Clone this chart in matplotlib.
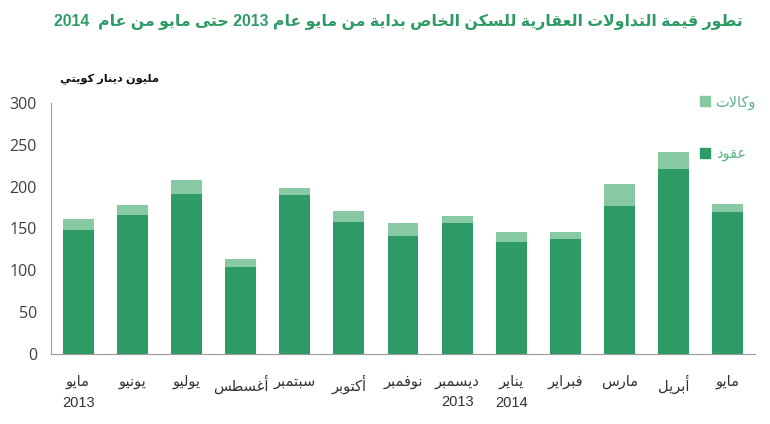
import matplotlib
matplotlib.use("Agg")
import matplotlib.pyplot as plt
from matplotlib.patches import Patch
import numpy as np
import re

# ---------------- data ----------------
months = ["مايو\n2013", "يونيو", "يوليو", "أغسطس", "سبتمبر", "أكتوبر", "نوفمبر",
          "ديسمبر\n2013", "يناير\n2014", "فبراير", "مارس", "أبريل", "مايو"]
contracts = [148, 166.5, 191, 104.5, 190.5, 157.5, 141, 156, 134, 137, 177, 221, 170]   # عقود
agencies = [13.5, 11, 17, 9, 7.5, 13, 15, 9, 12, 9, 26, 20, 9]                          # وكالات
yticks = [0, 50, 100, 150, 200, 250, 300]
title = "تطور قيمة التداولات العقارية للسكن الخاص بداية من مايو عام 2013 حتى مايو من عام  2014"
ylabel = "مليون دينار كويتي"
label_contracts = "عقود"
label_agencies = "وكالات"

# ---------------- minimal Arabic shaping ----------------
FORMS = {
    'ء': (0xFE80, None, None, None),
    'آ': (0xFE81, 0xFE82, None, None),
    'أ': (0xFE83, 0xFE84, None, None),
    'ؤ': (0xFE85, 0xFE86, None, None),
    'إ': (0xFE87, 0xFE88, None, None),
    'ئ': (0xFE89, 0xFE8A, 0xFE8B, 0xFE8C),
    'ا': (0xFE8D, 0xFE8E, None, None),
    'ب': (0xFE8F, 0xFE90, 0xFE91, 0xFE92),
    'ة': (0xFE93, 0xFE94, None, None),
    'ت': (0xFE95, 0xFE96, 0xFE97, 0xFE98),
    'ث': (0xFE99, 0xFE9A, 0xFE9B, 0xFE9C),
    'ج': (0xFE9D, 0xFE9E, 0xFE9F, 0xFEA0),
    'ح': (0xFEA1, 0xFEA2, 0xFEA3, 0xFEA4),
    'خ': (0xFEA5, 0xFEA6, 0xFEA7, 0xFEA8),
    'د': (0xFEA9, 0xFEAA, None, None),
    'ذ': (0xFEAB, 0xFEAC, None, None),
    'ر': (0xFEAD, 0xFEAE, None, None),
    'ز': (0xFEAF, 0xFEB0, None, None),
    'س': (0xFEB1, 0xFEB2, 0xFEB3, 0xFEB4),
    'ش': (0xFEB5, 0xFEB6, 0xFEB7, 0xFEB8),
    'ص': (0xFEB9, 0xFEBA, 0xFEBB, 0xFEBC),
    'ض': (0xFEBD, 0xFEBE, 0xFEBF, 0xFEC0),
    'ط': (0xFEC1, 0xFEC2, 0xFEC3, 0xFEC4),
    'ظ': (0xFEC5, 0xFEC6, 0xFEC7, 0xFEC8),
    'ع': (0xFEC9, 0xFECA, 0xFECB, 0xFECC),
    'غ': (0xFECD, 0xFECE, 0xFECF, 0xFED0),
    'ف': (0xFED1, 0xFED2, 0xFED3, 0xFED4),
    'ق': (0xFED5, 0xFED6, 0xFED7, 0xFED8),
    'ك': (0xFED9, 0xFEDA, 0xFEDB, 0xFEDC),
    'ل': (0xFEDD, 0xFEDE, 0xFEDF, 0xFEE0),
    'م': (0xFEE1, 0xFEE2, 0xFEE3, 0xFEE4),
    'ن': (0xFEE5, 0xFEE6, 0xFEE7, 0xFEE8),
    'ه': (0xFEE9, 0xFEEA, 0xFEEB, 0xFEEC),
    'و': (0xFEED, 0xFEEE, None, None),
    'ى': (0xFEEF, 0xFEF0, None, None),
    'ي': (0xFEF1, 0xFEF2, 0xFEF3, 0xFEF4),
}
LAM_ALEF = {'ا': (0xFEFB, 0xFEFC), 'أ': (0xFEF7, 0xFEF8),
            'آ': (0xFEF5, 0xFEF6), 'إ': (0xFEF9, 0xFEFA)}


def dual(c):
    return c in FORMS and FORMS[c][2] is not None


def shape_word(s):
    chars = list(s)
    out = []
    i = 0
    n = len(chars)
    while i < n:
        c = chars[i]
        if c not in FORMS:
            out.append(c)
            i += 1
            continue
        prev_join = i > 0 and dual(chars[i - 1])
        if c == 'ل' and i + 1 < n and chars[i + 1] in LAM_ALEF:
            iso, fin = LAM_ALEF[chars[i + 1]]
            out.append(chr(fin if prev_join else iso))
            i += 2
            continue
        next_join = dual(c) and i + 1 < n and chars[i + 1] in FORMS
        iso, fin, ini, med = FORMS[c]
        if prev_join and next_join:
            code = med
        elif prev_join:
            code = fin
        elif next_join:
            code = ini
        else:
            code = iso
        out.append(chr(code))
        i += 1
    return ''.join(out)


def ar(text):
    lines = []
    for line in text.split('\n'):
        rev = shape_word(line)[::-1]
        rev = re.sub(r'[0-9]+', lambda m: m.group(0)[::-1], rev)
        lines.append(rev)
    return '\n'.join(lines)


# ---------------- plot ----------------
plt.rcParams['font.family'] = ['Liberation Sans', 'DejaVu Sans']

dark = '#2e9b66'
light = '#86c9a3'

fig = plt.figure(figsize=(7.7, 4.24), dpi=100)
ax = fig.add_axes([51 / 770, 70 / 424, 704 / 770, 251 / 424])

x = np.arange(len(months))
ax.bar(x, contracts, width=0.57, color=dark, zorder=2)
ax.bar(x, agencies, width=0.57, bottom=contracts, color=light, zorder=2)

ax.set_xlim(-0.5, len(months) - 0.5)
ax.set_ylim(0, 300)
ax.set_yticks(yticks)
ax.set_yticklabels([str(v) for v in yticks], fontsize=11.5, color='#404040',
                   family=['Open Sans', 'DejaVu Sans'])
ax.tick_params(axis='y', length=0, pad=10)
ax.set_xticks(x)
ax.set_xticklabels([ar(m) for m in months], fontsize=10.5, color='#333333',
                   linespacing=1.6)
ax.tick_params(axis='x', length=0, pad=15)

for side in ['top', 'right']:
    ax.spines[side].set_visible(False)
ax.spines['left'].set_color('#9a9a9a')
ax.spines['bottom'].set_color('#9a9a9a')

fig.text(398 / 770, 1 - 22 / 424, ar(title), ha='center', va='center', fontsize=11.3,
         fontweight='bold', color='#2e9b66')
fig.text(110 / 770, 1 - 79 / 424, ar(ylabel), ha='center', va='center',
         fontsize=8.2, fontweight='bold', color='#111111')

handles = [Patch(color=light, label=ar(label_agencies)),
           Patch(color=dark, label=ar(label_contracts))]
leg = fig.legend(handles=handles, loc='upper right', bbox_to_anchor=(756 / 770, 1 - 95 / 424),
                 frameon=False, markerfirst=True, fontsize=10.5, labelspacing=2.55,
                 handlelength=0.7, handleheight=0.7, handletextpad=0.4, labelcolor='#5db585',
                 borderaxespad=0, borderpad=0)

fig.savefig('out.png', dpi=100)
